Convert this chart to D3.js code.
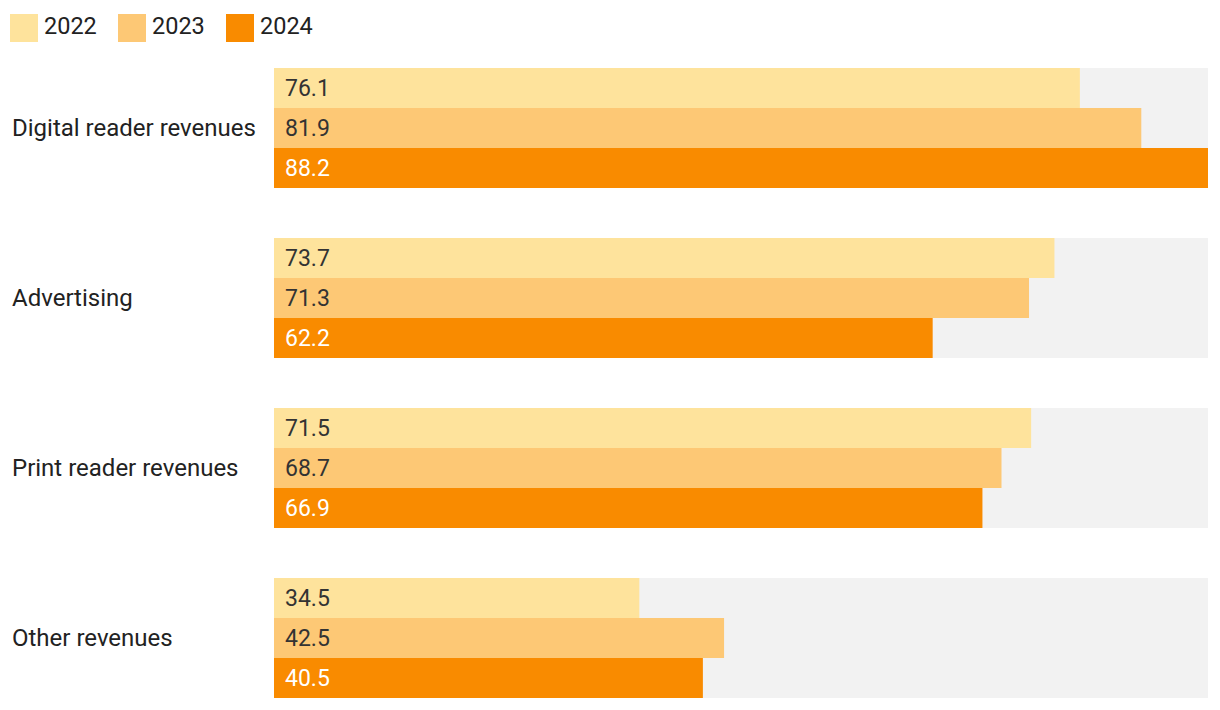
<!DOCTYPE html>
<html><head><meta charset="utf-8">
<script src="https://cdn.jsdelivr.net/npm/d3@7"></script>
<style>body{margin:0;background:#fff;font-family:Roboto,sans-serif;}</style>
</head><body>
<svg id="c" width="1220" height="710"></svg>
<script>
const categories = ["Digital reader revenues","Advertising","Print reader revenues","Other revenues"];
const years = ["2022","2023","2024"];
const values2022 = [76.1, 73.7, 71.5, 34.5];
const values2023 = [81.9, 71.3, 68.7, 42.5];
const values2024 = [88.2, 62.2, 66.9, 40.5];
const colors = ["#fee39c","#fdc875","#f98b00"];
const labelColors = ["#333333","#333333","#ffffff"];

const series = [values2022, values2023, values2024];
const svg = d3.select("#c");
const x = d3.scaleLinear().domain([0, d3.max(values2024.concat(values2023, values2022))]).range([274, 1208]);
const y0b = d3.scaleOrdinal().domain(categories).range(categories.map((c,i)=>68+i*170));
const y1 = d3.scaleBand().domain(years).range([0,120]);

// legend
const lg = svg.append("g");
years.forEach((yr,i)=>{
  const gx = 10 + i*108;
  lg.append("rect").attr("x",gx).attr("y",14).attr("width",28).attr("height",28).attr("fill",colors[i]);
  lg.append("text").attr("x",gx+34).attr("y",34).attr("font-size",23.5).attr("fill","#222").text(yr);
});

const g = svg.selectAll("g.cat").data(categories).join("g").attr("class","cat")
  .attr("transform",c=>`translate(0,${y0b(c)})`);
g.append("rect").attr("x",x(0)).attr("y",0).attr("width",x.range()[1]-x(0)).attr("height",120).attr("fill","#f2f2f2");
g.append("text").attr("x",12).attr("y",60).attr("dy","0.33em").attr("font-size",24).attr("fill","#222").text(c=>c);
years.forEach((yr,si)=>{
  g.append("rect").attr("x",x(0)).attr("y",y1(yr)).attr("width",(c,i)=>x(series[si][i])-x(0)).attr("height",y1.bandwidth()).attr("fill",colors[si]);
  g.append("text").attr("x",x(0)+11).attr("y",y1(yr)+y1.bandwidth()/2).attr("dy","0.34em").attr("font-size",23).attr("fill",labelColors[si]).text((c,i)=>series[si][i].toFixed(1));
});
</script>
</body></html>
